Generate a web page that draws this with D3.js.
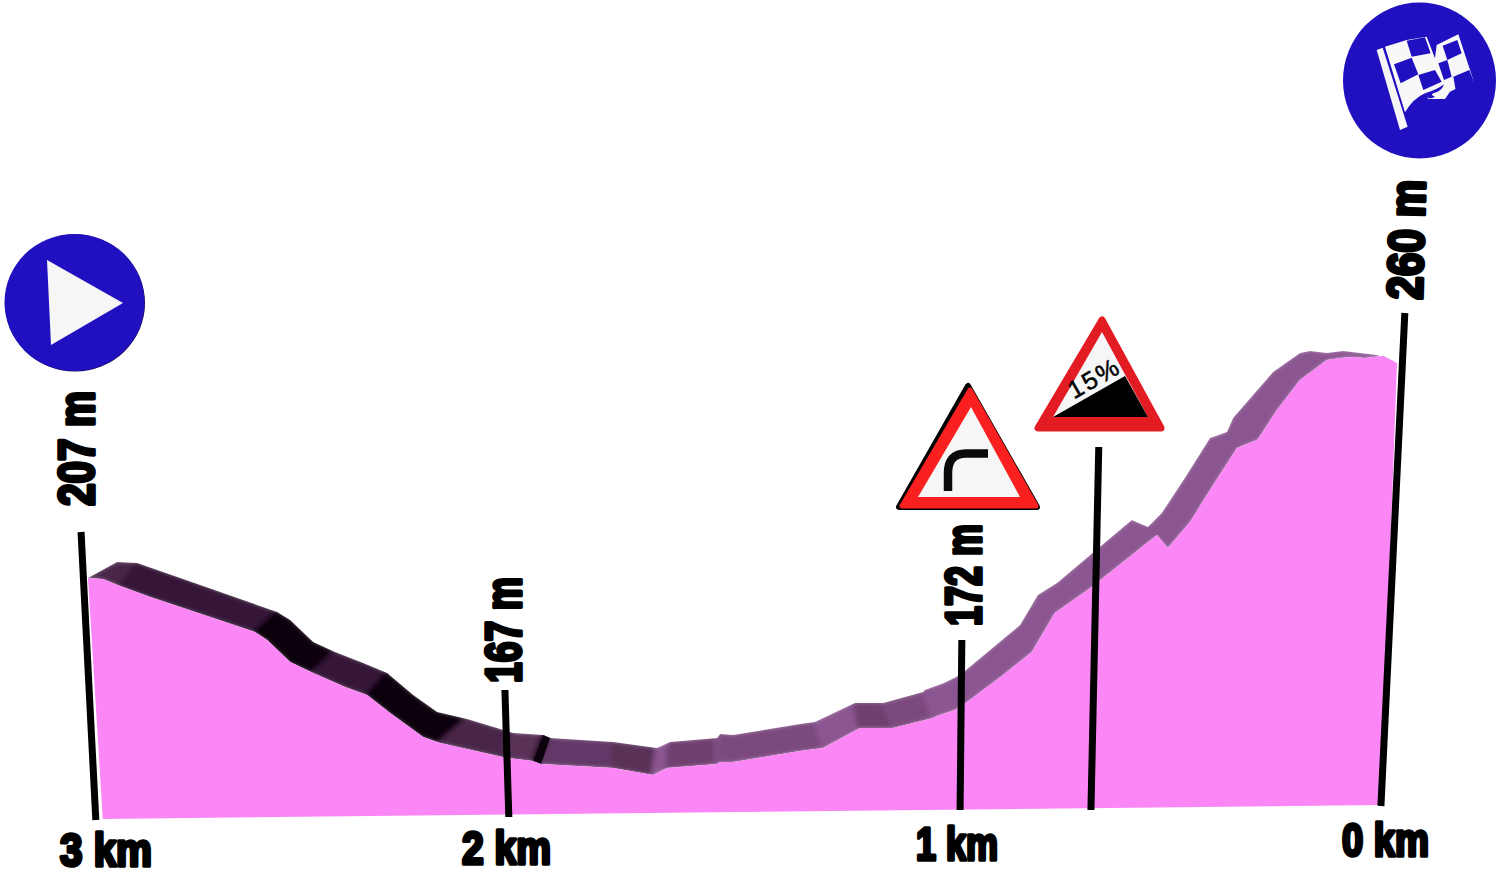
<!DOCTYPE html>
<html>
<head>
<meta charset="utf-8">
<script src="https://cdnjs.cloudflare.com/ajax/libs/d3/7.8.5/d3.min.js"></script>
<style>
html,body{margin:0;padding:0;background:#fff;}
svg{display:block;}
</style>
</head>
<body>
<div id="chart"></div>
<script>
// Road edge nearest the viewer: metres from the start line, altitude in metres
const frontDist = [0,34,74,143,384,412,465,518,591,642,695,771,810,964,1024,1042,1208,1300,1332,1447,1454,1484,1638,1691,1776,1852,1944,1953,1994,2022,2105,2171,2224,2309,2459,2484,2535,2581,2643,2689,2696,2735,2788,2850,2880,2910,2937,2979,3011];
const frontAlt  = [204.25,204,202.25,199.5,190.75,188.75,183.25,180.5,177,175,170.5,164.5,163,159.25,158.5,157.75,156.75,155,156.75,157.75,158.25,158.25,161,161.75,166.75,166.75,169.25,169.75,171.25,173.25,180,185.75,195.5,202,215,211.75,218.25,226.25,236.75,238.75,239.75,246.25,253.75,258.75,259.25,259.5,259.25,259.75,258];
// Far road edge (the 3D ribbon)
const backDist = [0,67,113,212,435,465,518,568,633,688,748,803,872,978,1047,1063,1208,1309,1339,1447,1454,1484,1638,1672,1764,1829,1921,1925,1969,2006,2075,2144,2185,2229,2401,2438,2470,2523,2581,2620,2634,2684,2726,2788,2811,2850,2887,2965,3011];
const backAlt  = [204.25,208.25,208,204.25,195.75,193.75,188.25,185.75,183,180.5,175,170.75,169,165.5,165,164.25,163.25,161.75,163.25,164.25,165.25,165,167.75,168.25,173,173,175.75,176.25,178,180,186.25,192.5,200,203,218.75,217,220.5,229.25,239.25,240.75,244.25,250.5,255.75,260.5,261,260.5,261,260,258];
// Gradient of each ribbon segment, percent
const segmentGrade = [-2.5,-3,-3.8,-3.8,-9,-10,-9,-4,-4,-9,-9,-8,-2.5,-1.5,-12,-0.8,-1.5,3.5,0.5,6,1.5,2,2,5,0.5,2,3.5,3.5,5,5,5,5,5,5,5,4,5,5,5,5,5,5,5,5,5,5,5,5];
// Ground line of the profile
const baseDist = [3011,2974,34];
const baseAlt  = [258,147.5,144];
// Distance posts
const postBaseDist = [18,968,2006,2307,2974];
const postBaseAlt  = [143.75,144.5,146.25,146.25,147.25];
const postTopDist  = [-16,959,2010,2325,3029];
const postTopAlt   = [215.75,176.25,188.75,237,270.5];
// Labels
const kmLabels = ["3 km","2 km","1 km","0 km"];
const altLabels = ["207 m","167 m","172 m","260 m"];
const gradeSignText = "15%";

const W = 1500, H = 876;
const x = d3.scaleLinear().domain([0,3011]).range([88,1397]);
const y = d3.scaleLinear().domain([145,260]).range([815,355]);
const shade = d3.scaleThreshold()
  .domain([-7,-3.5,-2,-1,0,1,3])
  .range(["#0c020d","#351737","#4a2649","#5a3059","#643768","#6f3f70","#7b4a7e","#8a5490"]);

// Label layout
const kmLayout = [
  {x:60,y:866,len:92},{x:462,y:864,len:89},{x:916,y:860,len:82},{x:1342,y:856,len:87}];
const altLayout = [
  {x:94,y:506,len:115,r:-90},{x:521,y:683,len:106,r:-90},{x:981,y:626,len:102,r:-90},{x:1422,y:300,len:120,r:-88.5}];
const labelFont = "'Liberation Sans Narrow','Liberation Sans',sans-serif";

const svg = d3.select("#chart").append("svg").attr("width",W).attr("height",H).attr("viewBox",`0 0 ${W} ${H}`);
svg.append("rect").attr("width",W).attr("height",H).attr("fill","#fff");

const defs = svg.append("defs");
defs.append("filter").attr("id","soft").attr("x","-2%").attr("y","-10%").attr("width","104%").attr("height","120%")
  .append("feGaussianBlur").attr("stdDeviation",2.5);

// Ribbon: a single outline clips the softly blended segments, so no seams show
const pt = (a,b)=>[x(a),y(b)];
const frontPts = frontDist.map((d,i)=>pt(d,frontAlt[i]));
const backPts = backDist.map((d,i)=>pt(d,backAlt[i]));
const quads = segmentGrade.map((g,i)=>({g,pts:[frontPts[i],backPts[i],backPts[i+1],frontPts[i+1]]}));
defs.append("clipPath").attr("id","ribbonClip").append("path")
  .attr("d",d3.line()(backPts.concat(frontPts.slice().reverse()))+"Z");
svg.append("g").attr("clip-path","url(#ribbonClip)")
  .append("g").attr("filter","url(#soft)")
  .selectAll("path").data(quads).join("path")
  .attr("d",d=>d3.line()(d.pts)+"Z")
  .attr("fill",d=>shade(d.g))
  .attr("stroke",d=>shade(d.g))
  .attr("stroke-width",4);
// Short sharp strips stay crisp over the blur
svg.append("g").selectAll("path").data(quads.filter(d=>d.g<-11)).join("path")
  .attr("d",d=>d3.line()(d.pts)+"Z").attr("fill",d=>shade(d.g));

// Profile fill
const outline = frontPts.concat(baseDist.slice(1).map((d,i)=>pt(d,baseAlt[i+1])));
svg.append("path").attr("d",d3.line()(outline)+"Z").attr("fill","#fb86f5");

// Posts
svg.append("g").selectAll("line").data(postBaseDist).join("line")
  .attr("x1",(d)=>x(d)).attr("y1",(d,i)=>y(postBaseAlt[i]))
  .attr("x2",(d,i)=>x(postTopDist[i])).attr("y2",(d,i)=>y(postTopAlt[i]))
  .attr("stroke","#000").attr("stroke-width",7);

// Labels
svg.append("g").selectAll("text").data(kmLabels).join("text")
  .attr("x",(d,i)=>kmLayout[i].x).attr("y",(d,i)=>kmLayout[i].y)
  .attr("textLength",(d,i)=>kmLayout[i].len).attr("lengthAdjust","spacingAndGlyphs")
  .attr("font-family",labelFont).attr("font-weight",700).attr("font-size",46)
  .attr("fill","#000").attr("stroke","#000").attr("stroke-width",3.6).attr("stroke-linejoin","round")
  .text(d=>d);
svg.append("g").selectAll("text").data(altLabels).join("text")
  .attr("transform",(d,i)=>`translate(${altLayout[i].x},${altLayout[i].y}) rotate(${altLayout[i].r})`)
  .attr("textLength",(d,i)=>altLayout[i].len).attr("lengthAdjust","spacingAndGlyphs")
  .attr("font-family",labelFont).attr("font-weight",700).attr("font-size",50)
  .attr("fill","#000").attr("stroke","#000").attr("stroke-width",3.6).attr("stroke-linejoin","round")
  .text(d=>d);

// Start disc
const start = svg.append("g");
start.append("ellipse").attr("cx",75).attr("cy",303).attr("rx",70).attr("ry",68.5).attr("fill","#1a0a55");
start.append("ellipse").attr("cx",74.5).attr("cy",302.5).attr("rx",70).attr("ry",68.5).attr("fill","#2110c0");
start.append("path").attr("d","M47,260L123,303L51,345Z").attr("fill","#f6f6f6");

// Finish disc with chequered flag
const finish = svg.append("g");
finish.append("ellipse").attr("cx",1419.5).attr("cy",80.5).attr("rx",76.5).attr("ry",78).attr("fill","#2110c0");
const flag = finish.append("g").attr("transform","translate(1370,25) scale(0.3333)");
flag.append("path").attr("d","M20,75L38,68L113,305L90,315Z").attr("fill","#f6f6f6");
flag.append("path").attr("d","M45,65L110,45L170,35L195,100L200,60L265,28L310,165L240,200L225,222L175,222L165,205Q130,220 105,262Z").attr("fill","#f8f8f8");
const squares = ["M110,47L165,37L182,85L125,95Z","M72,118L125,98L145,148L92,175Z","M145,150L195,135L215,170L160,195Z","M218,62L262,45L275,85L232,105Z","M205,115L232,105L245,155L222,165Z","M250,155L298,135L310,165L258,200Z"];
flag.selectAll("path.sq").data(squares).join("path").attr("class","sq").attr("d",d=>d).attr("fill","#2110c0");
flag.append("path").attr("d","M165,205Q200,195 222,178Q215,200 190,205Q180,210 195,215Q180,225 170,215Z").attr("fill","#2110c0");

// Bend warning sign
const bend = svg.append("g");
bend.append("path").attr("d","M968,386L899,507L1037,507Z").attr("fill","#fff").attr("stroke","#000").attr("stroke-width",6).attr("stroke-linejoin","round");
bend.append("path").attr("d","M970,390L902,506L1036,506Z").attr("fill","#f9201f").attr("stroke","#f9201f").attr("stroke-width",5).attr("stroke-linejoin","round");
bend.append("path").attr("d","M971,407L918,497L1020,497Z").attr("fill","#f6f6f6");
bend.append("path").attr("d","M948,491V473Q948,453.5 966,453.5H988").attr("fill","none").attr("stroke","#0a0a0a").attr("stroke-width",8.5).attr("stroke-linejoin","round");

// Gradient warning sign
const steep = svg.append("g");
steep.append("path").attr("d","M1102,320L1038,428L1161,428Z").attr("fill","#e31b23").attr("stroke","#e31b23").attr("stroke-width",7).attr("stroke-linejoin","round");
steep.append("path").attr("d","M1102,332L1053,417L1148,417Z").attr("fill","#f6f6f6");
steep.append("path").attr("d","M1053,417L1125,376L1148,417Z").attr("fill","#000");
steep.append("text").attr("transform","translate(1094,380) rotate(-30)").attr("text-anchor","middle").attr("y",7)
  .attr("textLength",54).attr("lengthAdjust","spacing")
  .attr("font-family","'Liberation Sans',sans-serif").attr("font-size",25).attr("fill","#000").attr("stroke","#000").attr("stroke-width",0.5)
  .text(gradeSignText);
</script>
</body>
</html>
